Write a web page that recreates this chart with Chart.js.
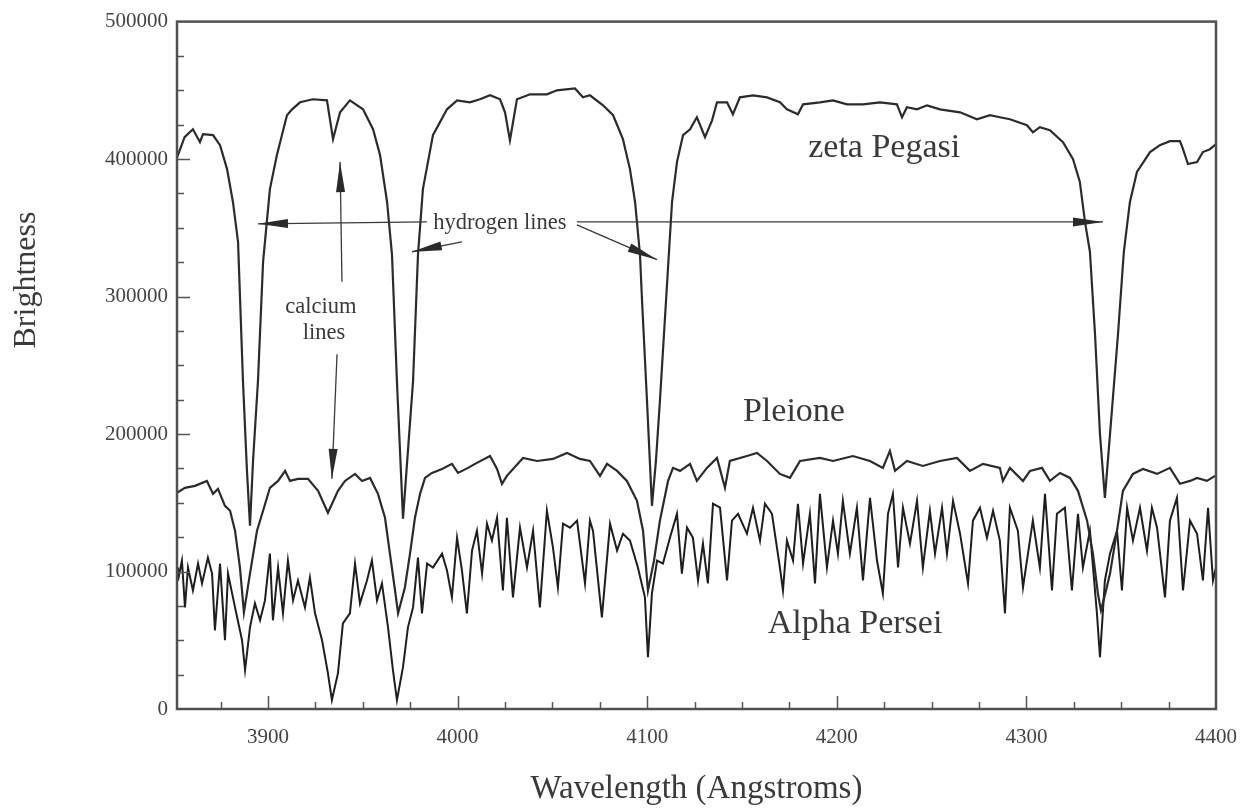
<!DOCTYPE html>
<html><head><meta charset="utf-8">
<script src="https://cdn.jsdelivr.net/npm/chart.js@4.4.0/dist/chart.umd.min.js"></script>
<style>html,body{margin:0;padding:0;background:#fff;}#wrap{width:1255px;height:810px;}</style>
</head><body><div id="wrap"><canvas id="c" width="1255" height="810"></canvas></div>
<script>
// ---- data ----
const xTicks = [3900, 4000, 4100, 4200, 4300, 4400];
const yTicks = [0, 100000, 200000, 300000, 400000, 500000];

const zetaWl = [3852,3856,3860.4,3864.1,3865.7,3871,3874.7,3878.4,3881.5,3884.2,
3886.8,3888.9,3890.5,3892.1,3894.7,3897.4,3901,3904.7,3910,3912.7,
3916.9,3923.7,3931.1,3934.3,3938,3943.2,3950.1,3955.4,3959.1,3962.8,
3965.4,3968,3971.2,3973.8,3976.5,3979.1,3981.7,3987,3994.4,3999.7,
4006.5,4011.8,4017.1,4022.4,4025,4027.6,4031.3,4038.2,4047.1,4052.4,
4061.9,4066.1,4069.8,4076.7,4082,4087.2,4090.9,4093.6,4096.2,4097.3,
4099.9,4102.5,4104.6,4106.7,4109.9,4113.1,4115.7,4118.9,4122.6,4126.2,
4130.5,4134.2,4136.8,4142.1,4145.2,4148.9,4155.8,4163.2,4170,4173.7,
4179.5,4182.2,4191.1,4198,4205.4,4213.8,4222.8,4231.7,4234.4,4237,
4242.3,4247.6,4254.4,4265,4273.9,4280.8,4286,4291.3,4300.3,4303.4,
4307.1,4312.4,4319.3,4324.6,4328.2,4330.9,4333.5,4336.2,4338.8,4341.4,
4344.1,4348.3,4351.4,4354.6,4358.3,4365.2,4370.4,4375.7,4381,4382.6,
4385.2,4390,4393.1,4396.8,4400];
const zetaBr = [401000,416000,421700,412300,418100,417400,410100,392700,368800,339800,
238400,173200,133300,180400,238400,325300,378200,402900,431900,436200,
441300,443500,442700,414500,434000,442700,436200,421700,402900,368800,
330400,238400,138400,187700,238400,330400,378200,417400,436200,442700,
441300,443500,446400,443500,434000,413700,443500,447100,447100,450000,
451400,444900,446400,439100,431900,414500,392700,368800,330400,296400,
223900,147800,180400,223900,296400,368800,397800,417400,421700,430400,
415900,428200,441300,441300,432600,444900,446400,444900,441300,436200,
432600,439800,441300,442700,439800,439800,441300,439800,430400,437700,
436200,439100,436200,434000,429000,431900,430400,429000,424600,419500,
423200,421000,412300,400000,383300,354300,332600,272400,200000,153600,
200000,272400,332600,368800,390600,405100,410100,413000,413000,407200,
396400,397800,405100,407200,410900];

const pleWl = [3852,3856.2,3861.5,3867.8,3871,3873.6,3877.3,3880,3882.6,3885.2,
3887.3,3890.5,3894.2,3897.4,3901,3905.3,3909,3911.6,3915.8,3921.1,
3926.4,3931.6,3936.9,3940.6,3945.9,3949.6,3953.8,3958,3961.7,3964.3,
3967,3968.6,3972.2,3974.9,3977.5,3980.2,3982.8,3986.5,3991.8,3997,
4000.2,4005.5,4009.2,4017.1,4020.8,4023.4,4026,4034.5,4041.9,4050.3,
4057.7,4064.5,4069.8,4075.1,4078.8,4084.1,4089.3,4094.6,4097.8,4100.4,
4103.6,4106.7,4111,4113.6,4117.3,4122.6,4126.2,4131.5,4136.8,4141,
4143.6,4152.6,4157.9,4163.2,4170,4175.3,4180.6,4191.1,4198,4208.5,
4217.5,4224.3,4228,4230.7,4237,4245.4,4254.4,4263.4,4270.2,4277.1,
4286,4287.6,4291.3,4298.2,4301.9,4308.2,4312.4,4317.7,4323,4327.2,
4332,4335.1,4337.7,4339.3,4342,4344.1,4347.8,4350.9,4356.2,4361.5,
4368.9,4375.7,4381,4386.3,4390,4395.2,4399.5];
const pleBr = [157200,160900,162300,165900,156500,160100,147800,144200,129700,102900,
70300,98500,129700,144200,160900,165900,173200,165900,167400,167400,
158700,142700,158700,165900,171000,165900,168100,156500,139100,113000,
86200,69600,88400,113000,139100,156500,168100,171700,174600,178300,
171700,175400,178300,184000,174600,163800,169600,182600,180400,181900,
186200,181900,180400,169600,178300,173200,165900,151400,129700,86200,
108000,137000,165900,175400,173200,178300,165900,175400,182600,160900,
180400,184000,186200,180400,171000,168100,180400,182600,180400,184000,
180400,175400,187700,173200,180400,176800,180400,182600,173200,178300,
175400,165900,175400,165900,173200,175400,165900,171700,168100,158700,
137000,113000,84100,71700,86200,98500,129700,158700,171000,174600,
171000,175400,163800,165900,168100,165900,169600];

const alpWl = [3852,3852.5,3854.6,3856.2,3857.8,3860.4,3863.1,3865.2,3868.3,3870.5,
3872,3874.7,3877.3,3878.9,3882.6,3886.3,3887.9,3890.5,3893.1,3895.8,
3898.4,3901,3902.6,3905.3,3907.9,3910.5,3913.2,3915.8,3919.5,3922.1,
3924.8,3928.5,3931.6,3933.7,3936.9,3939.5,3943.2,3945.9,3948.5,3952.2,
3954.8,3957.5,3960.1,3963.3,3965.9,3968,3971.2,3973.8,3976.5,3979.1,
3981.2,3983.9,3987,3991.8,3994.4,3997,3999.7,4002.3,4004.9,4007.6,
4010.2,4012.9,4015.5,4018.1,4020.8,4023.9,4026,4029.2,4032.9,4036.6,
4039.8,4043.4,4047.1,4050.3,4052.9,4055.6,4059.3,4063,4067.2,4069.8,
4071.4,4076.1,4080.4,4084.1,4087.2,4090.9,4095.1,4098.8,4100.4,4102.5,
4105.2,4108.3,4112,4115.7,4118.3,4121,4124.1,4126.8,4129.4,4132,
4134.7,4138.4,4142.1,4144.7,4147.9,4152.6,4155.8,4159.5,4162.1,4165.8,
4170,4171.6,4173.7,4176.9,4179.5,4182.2,4185.8,4188.5,4191.1,4194.8,
4198,4200.6,4203.2,4206.9,4210.6,4213.8,4217.5,4221.2,4224.3,4227,
4229.6,4232.3,4234.9,4238.6,4242.3,4245.4,4249.1,4251.8,4255.5,4258.1,
4261.3,4265,4269.2,4271.8,4275.5,4279.2,4282.4,4286,4288.7,4291.3,
4295.5,4298.2,4303.4,4307.1,4309.8,4313.5,4316.1,4320.3,4324,4327.2,
4329.8,4333.5,4337.2,4338.8,4341.4,4344.1,4347.8,4350.4,4353.1,4356.2,
4359.9,4363.6,4366.2,4368.9,4373.1,4375.7,4379.4,4382.6,4386.3,4390,
4393.1,4395.8,4398.4,4400];
const alpBr = [102900,93500,108000,73900,102900,86200,105800,91300,110100,98500,
57200,105800,50000,98500,73900,50000,28300,59400,76800,64500,
79000,113000,64500,102900,69600,108000,79000,93500,73900,95600,
69600,50000,26100,6500,26100,62300,69600,105800,76800,93500,
108000,79000,91300,59400,28300,6500,30400,59400,73900,110100,
69600,105800,102900,113000,100700,81200,124600,100700,69600,115200,
129700,98500,134800,122500,139100,86200,139100,81200,131900,102900,
129700,73900,144200,117400,88400,134800,131900,137000,91300,137000,
129700,66700,134800,115200,127500,122500,102900,81200,37700,84100,
108000,105800,124600,142000,98500,131900,124600,93500,120300,91300,
149300,146400,93500,137000,142000,127500,146400,122500,149300,142000,
102900,86200,122500,108000,149300,105800,142000,91300,156500,102900,
137000,113000,151400,113000,146400,93500,153600,108000,84100,142000,
156500,102900,146400,120300,151400,102900,144200,113000,146400,113000,
151400,127500,91300,137000,146400,124600,144200,122500,69600,146400,
129700,88400,137000,102900,156500,86200,142000,146400,86200,142000,
102900,129700,69600,37700,93500,113000,129700,86200,146400,122500,
146400,115200,146400,131900,81200,137000,153600,86200,137000,127500,
93500,146400,93500,102900];

// annotation texts and arrows (data coordinates: wavelength, brightness)
const seriesLabels = [
  {text: 'zeta Pegasi', wl: 4225, br: 408000},
  {text: 'Pleione', wl: 4177.4, br: 216000},
  {text: 'Alpha Persei', wl: 4209.6, br: 61600}
];
const noteLabels = [
  {text: 'hydrogen lines', wl: 4022.3, br: 353600},
  {text: 'calcium', wl: 3927.9, br: 292700},
  {text: 'lines', wl: 3929.5, br: 273200}
];
const arrows = [
  [3983.8, 354300, 3894.7, 352900],
  [4002.3, 339800, 3975.9, 332600],
  [4062.9, 354300, 4340.4, 354300],
  [4062.9, 352200, 4105.2, 326800],
  [3939.0, 310800, 3938.0, 397800],
  [3936.4, 258000, 3933.7, 167400]
];
const yAxisTitle = 'Brightness';
const xAxisTitle = 'Wavelength (Angstroms)';

// ---- chart ----
const pts = (w, b) => w.map((v, i) => ({x: v, y: b[i]}));
const FONT = "'Liberation Serif', 'DejaVu Serif', serif";
const TXT = '#3a3a3a';

const decor = {
  id: 'decor',
  afterDatasetsDraw(chart) {
    const {ctx, chartArea: a, scales: {x, y}} = chart;
    ctx.save();
    ctx.strokeStyle = '#555';
    ctx.lineWidth = 1.5;
    ctx.beginPath();
    for (let v = 3875; v < 4400; v += 25) {
      const px = Math.round(x.getPixelForValue(v)) + 0.5;
      const L = (v % 100 === 0) ? 13 : 7;
      ctx.moveTo(px, a.bottom); ctx.lineTo(px, a.bottom - L);
    }
    for (let v = 25000; v < 500000; v += 25000) {
      const py = Math.round(y.getPixelForValue(v)) + 0.5;
      const L = (v % 100000 === 0) ? 13 : 7;
      ctx.moveTo(a.left, py); ctx.lineTo(a.left + L, py);
    }
    ctx.stroke();
    ctx.lineWidth = 2.5;
    ctx.strokeStyle = '#505050';
    ctx.strokeRect(a.left, a.top, a.right - a.left, a.bottom - a.top);

    ctx.fillStyle = TXT;
    ctx.textAlign = 'center';
    ctx.textBaseline = 'middle';
    ctx.font = '34px ' + FONT;
    seriesLabels.forEach(l => ctx.fillText(l.text, x.getPixelForValue(l.wl), y.getPixelForValue(l.br)));
    ctx.font = '22.5px ' + FONT;
    noteLabels.forEach(l => ctx.fillText(l.text, x.getPixelForValue(l.wl), y.getPixelForValue(l.br)));

    // y axis title, placed above the axis centre as in the original
    ctx.save();
    ctx.font = '32px ' + FONT;
    ctx.translate(27, y.getPixelForValue(312000));
    ctx.rotate(-Math.PI / 2);
    ctx.fillText(yAxisTitle, 0, 0);
    ctx.restore();

    ctx.strokeStyle = '#3a3a3a';
    ctx.lineWidth = 1.3;
    arrows.forEach(([w0, b0, w1, b1]) => {
      const x0 = x.getPixelForValue(w0), y0 = y.getPixelForValue(b0);
      const x1 = x.getPixelForValue(w1), y1 = y.getPixelForValue(b1);
      ctx.beginPath(); ctx.moveTo(x0, y0); ctx.lineTo(x1, y1); ctx.stroke();
      const ang = Math.atan2(y1 - y0, x1 - x0);
      const len = 30, hw = 4.5;
      const bx = x1 - len * Math.cos(ang), by = y1 - len * Math.sin(ang);
      ctx.beginPath();
      ctx.moveTo(x1, y1);
      ctx.lineTo(bx + hw * Math.sin(ang), by - hw * Math.cos(ang));
      ctx.lineTo(bx - hw * Math.sin(ang), by + hw * Math.cos(ang));
      ctx.closePath();
      ctx.fillStyle = '#2a2a2a';
      ctx.fill();
    });
    ctx.restore();
  }
};

new Chart(document.getElementById('c'), {
  type: 'line',
  data: {
    datasets: [
      {label: 'zeta Pegasi', data: pts(zetaWl, zetaBr), borderColor: '#2b2b2b', borderWidth: 2.2},
      {label: 'Pleione', data: pts(pleWl, pleBr), borderColor: '#2b2b2b', borderWidth: 2.2},
      {label: 'Alpha Persei', data: pts(alpWl, alpBr), borderColor: '#1e1e1e', borderWidth: 2}
    ]
  },
  options: {
    responsive: false,
    animation: false,
    devicePixelRatio: 1,
    elements: {point: {radius: 0}, line: {tension: 0}},
    layout: {padding: {top: 19, right: 39, left: 0, bottom: 0}},
    plugins: {legend: {display: false}, tooltip: {enabled: false}},
    scales: {
      x: {
        type: 'linear', min: 3852, max: 4400,
        afterBuildTicks: s => { s.ticks = xTicks.map(v => ({value: v})); },
        afterFit: s => { s.height = 101; },
        grid: {display: false, drawTicks: false},
        border: {display: false},
        ticks: {color: '#444', font: {family: FONT, size: 21}, padding: 16, maxRotation: 0, autoSkip: false, callback: v => String(v)},
        title: {display: true, text: xAxisTitle, color: TXT, font: {family: FONT, size: 33}, padding: {top: 0, bottom: 1}}
      },
      y: {
        type: 'linear', min: 0, max: 500000,
        afterBuildTicks: s => { s.ticks = yTicks.map(v => ({value: v})); },
        afterFit: s => { s.width = 177; },
        grid: {display: false, drawTicks: false},
        border: {display: false},
        ticks: {color: '#444', font: {family: FONT, size: 21}, padding: 9, autoSkip: false, callback: v => String(v)},
        title: {display: false}
      }
    }
  },
  plugins: [decor]
});
</script>
</body></html>
